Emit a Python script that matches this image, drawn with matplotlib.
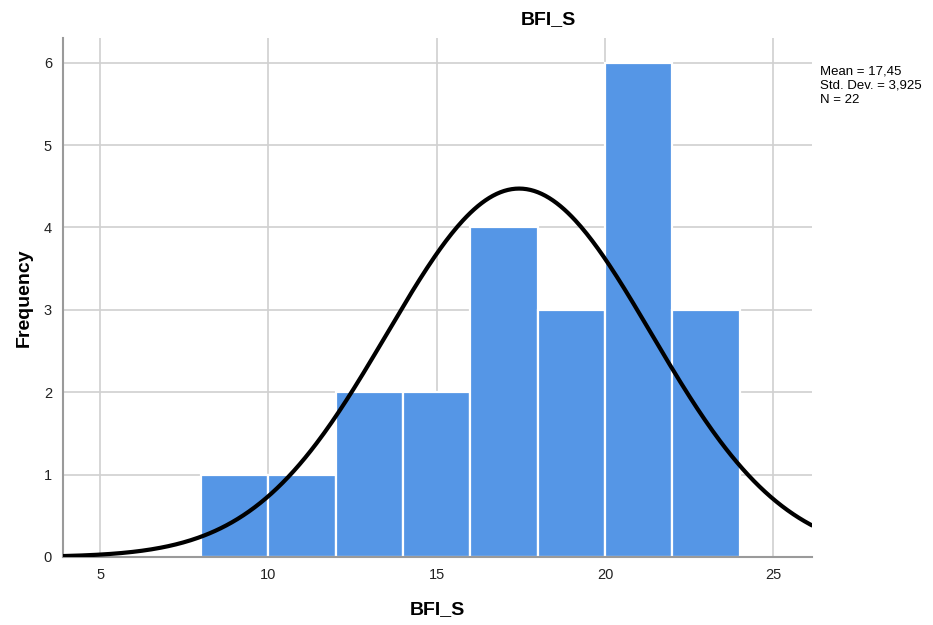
import matplotlib
matplotlib.use("Agg")
import matplotlib.pyplot as plt
import numpy as np

plt.rcParams["font.family"] = ["Liberation Sans", "DejaVu Sans"]

bin_edges = [8, 10, 12, 14, 16, 18, 20, 22, 24]
counts = [1, 1, 2, 2, 4, 3, 6, 3]
mean = 17.45
std_dev = 3.925
n_total = 22
x_ticks = [5, 10, 15, 20, 25]
y_ticks = [0, 1, 2, 3, 4, 5, 6]
stats_lines = ["Mean = 17,45", "Std. Dev. = 3,925", "N = 22"]

fig = plt.figure(figsize=(9.33, 6.25), dpi=100)
ax = fig.add_axes([63 / 933, 68 / 625, (812 - 63) / 933, (557 - 38) / 625])

widths = np.diff(bin_edges)
ax.bar(bin_edges[:-1], counts, width=widths, align="edge",
       color="#5596e6", edgecolor="white", linewidth=1.6, zorder=2)

# normal curve scaled to the histogram
xs = np.linspace(3.9, 26.15, 400)
bw = widths[0]
ys = n_total * bw / (std_dev * np.sqrt(2 * np.pi)) * np.exp(-0.5 * ((xs - mean) / std_dev) ** 2)
ax.plot(xs, ys, color="black", linewidth=3, zorder=3, solid_capstyle="round")

ax.set_xlim(3.9, 26.15)
ax.set_ylim(0, 6.3)
ax.set_xticks(x_ticks)
ax.set_yticks(y_ticks)
ax.grid(True, color="#d0d0d0", linewidth=1.2, zorder=0)
ax.set_axisbelow(True)
for side in ("top", "right"):
    ax.spines[side].set_visible(False)
for side in ("left", "bottom"):
    ax.spines[side].set_color("#9a9a9a")
    ax.spines[side].set_linewidth(1.5)
ax.tick_params(length=0, labelsize=10.5, colors="#222222", pad=8)

ax.set_xlabel("BFI_S", fontsize=14, fontweight="bold", labelpad=14)
ax.set_ylabel("Frequency", fontsize=14, fontweight="bold", labelpad=8)
fig.text(548 / 933, 1 - 20 / 625, "BFI_S", fontsize=14, fontweight="bold",
         ha="center", va="center")
fig.text(820 / 933, 1 - 65 / 625, "\n".join(stats_lines),
         fontsize=9.5, ha="left", va="top", linespacing=1.3)

fig.savefig("out.png", dpi=100)
